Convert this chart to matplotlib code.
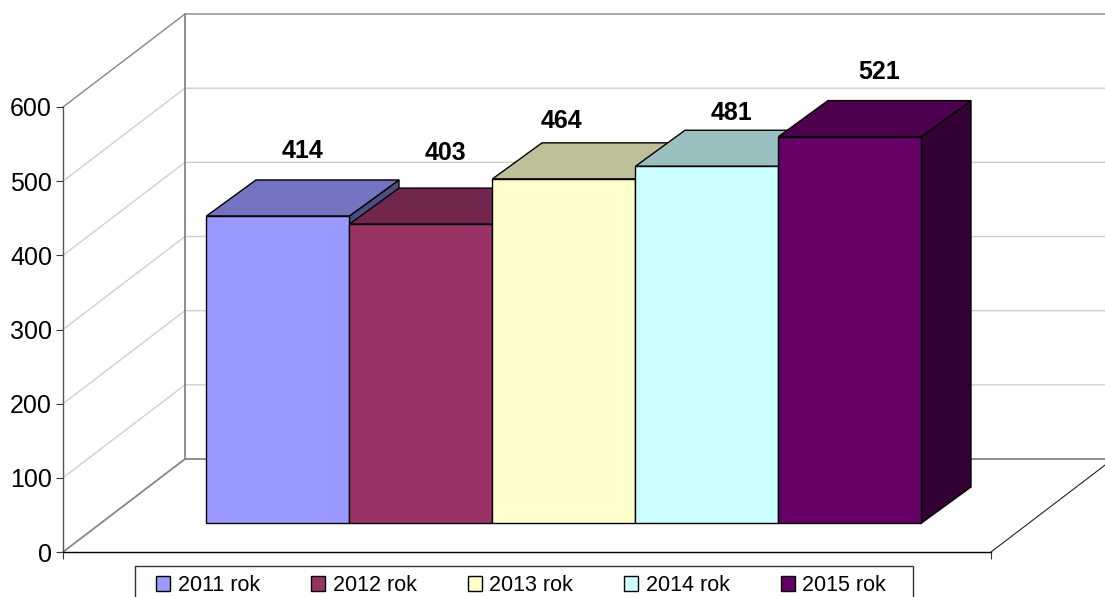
#!/usr/bin/env python3
# -*- coding: utf-8 -*-
import matplotlib
matplotlib.use('Agg')
import matplotlib.pyplot as plt
from matplotlib.patches import Polygon, Rectangle

plt.rcParams['font.family'] = ['Liberation Sans', 'DejaVu Sans']

# data
years = ['2011 rok', '2012 rok', '2013 rok', '2014 rok', '2015 rok']
values = [414, 403, 464, 481, 521]
yticks = [0, 100, 200, 300, 400, 500, 600]

# colours of the bar faces
front_clr = ['#9999FF', '#993366', '#FFFFCC', '#CCFFFF', '#660066']
top_clr = ['#7373BF', '#73264D', '#BFBF99', '#99BFBF', '#4D004D']
side_clr = ['#4D4D80', '#4D1A33', '#808066', '#668080', '#330033']

# hand placed data labels, in pixels relative to the back of the bar top
label_dx = [25, 24, -3, 25, 29]
label_dy = [22, 28, 15, 10, 22]

'''
Scale setup: x in bar widths, y in chart values
'''
W, H = 1105, 597
bar_px = 143.0
x0_px = 278.0      # centre of first bar
y0_px = 552.0      # value 0
y_px = 445.0 / 600  # pixels per value

def xs(px):
    return (px - x0_px) / bar_px

axis_x = xs(63)
end_x = xs(991)
right_x = xs(1105)
wall_dx = 122 / bar_px
wall_dy = 93 / y_px
bar_dx = 49.5 / bar_px
bar_dy = 36 / y_px
floor = (y0_px - 523) / y_px

fig = plt.figure(figsize=(W / 100, H / 100), dpi=100)
ax = fig.add_axes([0, 0, 1, 1])
ax.patch.set_visible(False)
ax.set_xlim(xs(0), xs(W))
ax.set_ylim((y0_px - H) / y_px, y0_px / y_px)

# walls and grid
grid_clr = '#CFCFCF'
wall_clr = '#868686'
for v in yticks[1:-1]:
    ax.plot([axis_x, axis_x + wall_dx, right_x], [v, v + wall_dy, v + wall_dy],
            color=grid_clr, lw=1.0, zorder=1)
ax.plot([axis_x, axis_x + wall_dx, right_x], [600, 600 + wall_dy, 600 + wall_dy],
        color=wall_clr, lw=1.0, zorder=1.5)
ax.plot([axis_x, axis_x + wall_dx, right_x], [0, wall_dy, wall_dy],
        color=wall_clr, lw=1.3, zorder=1.5)
ax.plot([axis_x + wall_dx, axis_x + wall_dx], [wall_dy, 600 + wall_dy],
        color=wall_clr, lw=1.3, zorder=1.5)
ax.plot([end_x, end_x + wall_dx], [0, wall_dy], color='#222222', lw=0.8, zorder=1.5)

# bars, left to right so the later ones cover the earlier ones
for i, v in enumerate(values):
    z = 3 + i
    left, right = i - 0.5, i + 0.5
    top = floor + v
    ax.add_patch(Polygon([(right, floor), (right + bar_dx, floor + bar_dy),
                          (right + bar_dx, top + bar_dy), (right, top)],
                         facecolor=side_clr[i], edgecolor='black', lw=1, zorder=z))
    ax.add_patch(Polygon([(left, top), (left + bar_dx, top + bar_dy),
                          (right + bar_dx, top + bar_dy), (right, top)],
                         facecolor=top_clr[i], edgecolor='black', lw=1, zorder=z))
    ax.bar(i, v, width=1.0, bottom=floor, color=front_clr[i], edgecolor='black',
           lw=1, zorder=z + 0.5, label=years[i])
    ax.annotate(str(v), xy=(i, top + bar_dy),
                xytext=(label_dx[i] * 0.72, label_dy[i] * 0.72), textcoords='offset points',
                ha='center', va='baseline', fontsize=18, fontweight='bold',
                color='black', zorder=20)

# axes
for s in ['top', 'right']:
    ax.spines[s].set_visible(False)
ax.spines['left'].set_position(('data', axis_x))
ax.spines['left'].set_bounds(0, 600)
ax.spines['left'].set_color('#555555')
ax.spines['left'].set_linewidth(1.0)
ax.spines['bottom'].set_position(('data', 0))
ax.spines['bottom'].set_bounds(axis_x, end_x)
ax.spines['bottom'].set_color('black')
ax.spines['bottom'].set_linewidth(1.0)
ax.set_yticks(yticks)
ax.set_xticks([axis_x, end_x])
ax.set_xticklabels(['', ''])
ax.tick_params(axis='y', length=5, width=0.8, pad=3, labelsize=18, color='#333333')
ax.tick_params(axis='x', length=5, width=0.8, color='#333333')

# legend box runs off the bottom of the picture
fig.add_artist(Rectangle((135 / W, -0.02), (913 - 135) / W, 0.02 + (H - 566) / H,
                         transform=fig.transFigure, facecolor='white',
                         edgecolor='#333333', lw=1.0, zorder=-1))
leg = ax.legend(loc='upper left', bbox_to_anchor=(156 / W, 1 - 575 / H),
                bbox_transform=fig.transFigure, ncol=5, frameon=False, fontsize=15.5,
                borderpad=0, borderaxespad=0, handlelength=0.65, handleheight=0.7,
                handletextpad=0.36, columnspacing=2.37)
leg.set_zorder(30)

plt.savefig('out.png', dpi=100)
